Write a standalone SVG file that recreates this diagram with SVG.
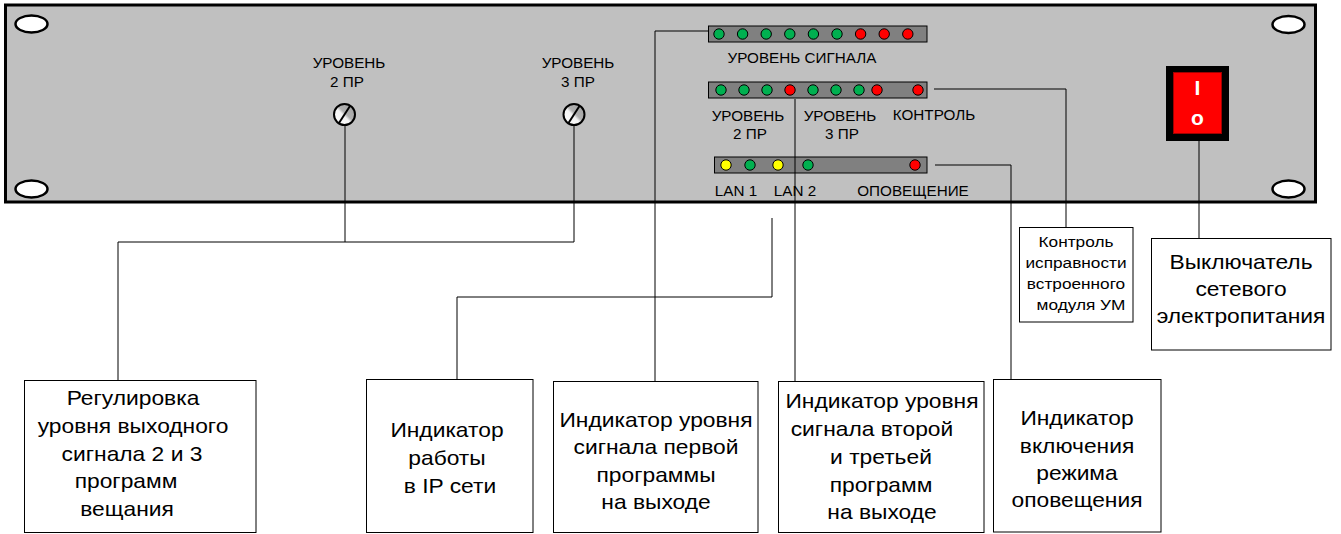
<svg xmlns="http://www.w3.org/2000/svg" width="1341" height="534" viewBox="0 0 1341 534">
<defs>
<style>
text{font-family:"Liberation Sans",Arial,sans-serif;fill:#000;text-anchor:middle}
.pt{font-size:14px}
.bt{font-size:20px}
.st{font-size:15px}
.box{fill:#fff;stroke:#000;stroke-width:1}
.wire{fill:none;stroke:#000;stroke-width:1}
.bar{fill:#808080;stroke:#000;stroke-width:1}
.led{stroke:#000;stroke-width:1}
.g{fill:#00b050}
.r{fill:#ff0000}
.y{fill:#ffff00}
.hole{fill:#fff;stroke:#000;stroke-width:2.5}
.knob{fill:url(#kg);stroke:#000;stroke-width:2}
.sw{fill:#fff;font-weight:bold;font-size:21px}
</style>
<linearGradient id="kg" x1="0" y1="1" x2="1" y2="0">
<stop offset="0" stop-color="#ffffff"/>
<stop offset="0.45" stop-color="#f4f4f4"/>
<stop offset="0.55" stop-color="#b0b0b0"/>
<stop offset="1" stop-color="#a0a0a0"/>
</linearGradient>
</defs>

<g id="panel">
<rect x="5.5" y="5" width="1310" height="197" fill="#c0c0c0" stroke="#000" stroke-width="3"/>
<ellipse class="hole" cx="31.5" cy="24" rx="16" ry="8.5"/>
<ellipse class="hole" cx="31.5" cy="189" rx="16" ry="8.5"/>
<ellipse class="hole" cx="1288.5" cy="24.5" rx="16" ry="8.5"/>
<ellipse class="hole" cx="1288.5" cy="189" rx="16" ry="8.5"/>
</g>

<g id="knob2">
<text class="pt" transform="translate(349 68) scale(1.09 1)">УРОВЕНЬ</text>
<text class="pt" transform="translate(347 87) scale(1.09 1)">2 ПР</text>
<circle class="knob" cx="344.5" cy="114.5" r="10.5"/>
<line x1="339" y1="123" x2="350" y2="106" stroke="#000" stroke-width="2"/>
</g>

<g id="knob3">
<text class="pt" transform="translate(578 68) scale(1.09 1)">УРОВЕНЬ</text>
<text class="pt" transform="translate(578 87) scale(1.09 1)">3 ПР</text>
<circle class="knob" cx="574" cy="114.5" r="10.5"/>
<line x1="568.5" y1="123" x2="579.5" y2="106" stroke="#000" stroke-width="2"/>
</g>

<g id="bar1">
<rect class="bar" x="708.5" y="26" width="218.5" height="16"/>
<circle class="led g" cx="719" cy="34" r="5.2"/>
<circle class="led g" cx="742.6" cy="34" r="5.2"/>
<circle class="led g" cx="766.2" cy="34" r="5.2"/>
<circle class="led g" cx="789.8" cy="34" r="5.2"/>
<circle class="led g" cx="813.4" cy="34" r="5.2"/>
<circle class="led g" cx="837" cy="34" r="5.2"/>
<circle class="led r" cx="860.6" cy="34" r="5.2"/>
<circle class="led r" cx="884.2" cy="34" r="5.2"/>
<circle class="led r" cx="907.8" cy="34" r="5.2"/>
<text class="pt" transform="translate(802 63) scale(1.09 1)">УРОВЕНЬ СИГНАЛА</text>
</g>

<g id="bar2">
<rect class="bar" x="708.5" y="82" width="218.5" height="16"/>
<circle class="led g" cx="721" cy="90" r="5.2"/>
<circle class="led g" cx="744" cy="90" r="5.2"/>
<circle class="led g" cx="767" cy="90" r="5.2"/>
<circle class="led r" cx="790" cy="90" r="5.2"/>
<circle class="led g" cx="813" cy="90" r="5.2"/>
<circle class="led g" cx="836" cy="90" r="5.2"/>
<circle class="led g" cx="859" cy="90" r="5.2"/>
<circle class="led r" cx="877" cy="90" r="5.2"/>
<circle class="led r" cx="918" cy="90" r="5.2"/>
<text class="pt" transform="translate(748 121) scale(1.09 1)">УРОВЕНЬ</text>
<text class="pt" transform="translate(750 139) scale(1.09 1)">2 ПР</text>
<text class="pt" transform="translate(840 121) scale(1.09 1)">УРОВЕНЬ</text>
<text class="pt" transform="translate(842 139) scale(1.09 1)">3 ПР</text>
<text class="pt" transform="translate(934 120) scale(1.09 1)">КОНТРОЛЬ</text>
</g>

<g id="bar3">
<rect class="bar" x="714.5" y="157" width="212.5" height="16"/>
<circle class="led y" cx="726" cy="165" r="5.2"/>
<circle class="led g" cx="750" cy="165" r="5.2"/>
<circle class="led y" cx="778" cy="165" r="5.2"/>
<circle class="led g" cx="808" cy="165" r="5.2"/>
<circle class="led r" cx="915" cy="165" r="5.2"/>
<text class="pt" transform="translate(736 196) scale(1.09 1)">LAN 1</text>
<text class="pt" transform="translate(795 196) scale(1.09 1)">LAN 2</text>
<text class="pt" transform="translate(913 196) scale(1.09 1)">ОПОВЕЩЕНИЕ</text>
</g>

<g id="switch">
<rect x="1166" y="66" width="63" height="75" fill="#000"/>
<rect x="1173.5" y="72.5" width="48" height="61" fill="#ff0000" stroke="#a00000" stroke-width="1"/>
<text class="sw" x="1197.5" y="95">I</text>
<text class="sw" x="1197.5" y="125">o</text>
</g>

<g id="connectors">
<polyline class="wire" points="345,125 345,242"/>
<polyline class="wire" points="574,125 574,242"/>
<polyline class="wire" points="118,380 118,242 574,242"/>
<polyline class="wire" points="708,31 655,31 655,381"/>
<polyline class="wire" points="795,99 795,381"/>
<polyline class="wire" points="772,218 772,297 457,297 457,379"/>
<polyline class="wire" points="934,89 1066,89 1066,227"/>
<polyline class="wire" points="935,165 1011,165 1011,379"/>
<polyline class="wire" points="1199,141 1199,238"/>
</g>

<g id="box-regulation">
<rect class="box" x="24.5" y="380.5" width="231.5" height="152"/>
<text class="bt" transform="translate(133 405) scale(1.14 1)">Регулировка</text>
<text class="bt" transform="translate(133 433) scale(1.14 1)">уровня выходного</text>
<text class="bt" transform="translate(132 461) scale(1.14 1)">сигнала 2 и 3</text>
<text class="bt" transform="translate(126 488) scale(1.14 1)">программ</text>
<text class="bt" transform="translate(127 516) scale(1.14 1)">вещания</text>
</g>

<g id="box-ip">
<rect class="box" x="366.5" y="379.5" width="166.5" height="153"/>
<text class="bt" transform="translate(447 437) scale(1.14 1)">Индикатор</text>
<text class="bt" transform="translate(447 465) scale(1.14 1)">работы</text>
<text class="bt" transform="translate(450 493) scale(1.14 1)">в IP сети</text>
</g>

<g id="box-level1">
<rect class="box" x="553.5" y="381.5" width="204.5" height="151"/>
<text class="bt" transform="translate(656 427) scale(1.14 1)">Индикатор уровня</text>
<text class="bt" transform="translate(656 454) scale(1.14 1)">сигнала первой</text>
<text class="bt" transform="translate(656 482) scale(1.14 1)">программы</text>
<text class="bt" transform="translate(656 509) scale(1.14 1)">на выходе</text>
</g>

<g id="box-level23">
<rect class="box" x="778.5" y="381.5" width="205.5" height="151"/>
<text class="bt" transform="translate(882 408) scale(1.14 1)">Индикатор уровня</text>
<text class="bt" transform="translate(872 436) scale(1.14 1)">сигнала второй</text>
<text class="bt" transform="translate(881 464) scale(1.14 1)">и третьей</text>
<text class="bt" transform="translate(881 492) scale(1.14 1)">программ</text>
<text class="bt" transform="translate(882 519) scale(1.14 1)">на выходе</text>
</g>

<g id="box-alert">
<rect class="box" x="993.5" y="379.5" width="167.5" height="152.5"/>
<text class="bt" transform="translate(1077 425) scale(1.14 1)">Индикатор</text>
<text class="bt" transform="translate(1077 453) scale(1.14 1)">включения</text>
<text class="bt" transform="translate(1077 480) scale(1.14 1)">режима</text>
<text class="bt" transform="translate(1077 507) scale(1.14 1)">оповещения</text>
</g>

<g id="box-control">
<rect class="box" x="1019.5" y="227.5" width="113.5" height="94.5"/>
<text class="st" transform="translate(1076 247) scale(1.15 1)">Контроль</text>
<text class="st" transform="translate(1076 268) scale(1.15 1)">исправности</text>
<text class="st" transform="translate(1076 289) scale(1.15 1)">встроенного</text>
<text class="st" transform="translate(1081 310) scale(1.15 1)">модуля УМ</text>
</g>

<g id="box-power">
<rect class="box" x="1151.5" y="238.5" width="179.5" height="111.5"/>
<text class="bt" transform="translate(1241 269) scale(1.14 1)">Выключатель</text>
<text class="bt" transform="translate(1241 296) scale(1.14 1)">сетевого</text>
<text class="bt" transform="translate(1241 323) scale(1.14 1)">электропитания</text>
</g>
</svg>
